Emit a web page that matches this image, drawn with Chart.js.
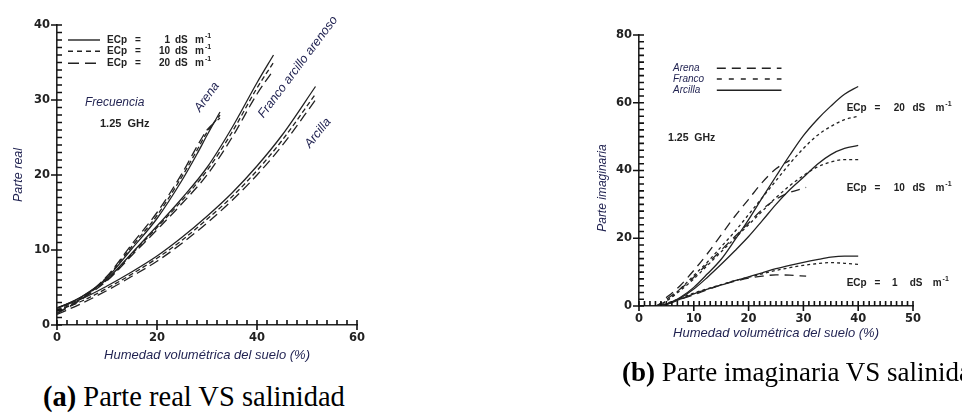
<!DOCTYPE html>
<html>
<head>
<meta charset="utf-8">
<script src="https://cdn.jsdelivr.net/npm/chart.js@4"></script>
<style>
  body { margin: 0; background: #fff; width: 962px; height: 416px; overflow: hidden; position: relative; }
  canvas { position: absolute; }
  #realChart { left: 0; top: 0; }
  #imagChart { left: 580px; top: 0; }
  .caption { position: absolute; font-family: "Liberation Serif", serif; color: #000; white-space: nowrap; line-height: 1; }
  #capA { left: 43px; top: 383px; font-size: 28.5px; }
  #capB { left: 622px; top: 359px; font-size: 27px; }
</style>
</head>
<body>
<canvas id="realChart" width="380" height="370"></canvas>
<canvas id="imagChart" width="382" height="360"></canvas>
<div class="caption" id="capA"><b>(a)</b> Parte real VS salinidad</div>
<div class="caption" id="capB"><b>(b)</b> Parte imaginaria VS salinidad</div>

<script>
// ---- (a) parte real: humedad (%) vs permitividad real, 1.25 GHz ----
const arenaX = [0, 5, 10, 15, 20, 25, 28, 30, 32.6];
const arenaReal1 = [2.2, 3.8, 6.3, 10.2, 14.2, 19.3, 22.8, 25.3, 28.4];
const arenaReal10 = [1.8, 3.6, 6.4, 10.5, 14.6, 19.8, 23.3, 25.7, 28.0];
const arenaReal20 = [1.5, 3.5, 6.5, 10.8, 15.0, 20.2, 23.8, 26.0, 27.6];

const francoX = [0, 5, 10, 15, 20, 25, 30, 35, 40, 43.3];
const francoReal1 = [2.2, 3.8, 6.1, 9.6, 13.2, 16.9, 21.0, 26.3, 32.3, 36.0];
const francoReal10 = [2.0, 3.7, 6.0, 9.5, 13.0, 16.6, 20.6, 25.7, 31.6, 35.0];
const francoReal20 = [1.6, 3.5, 5.9, 9.3, 12.7, 16.2, 20.0, 25.0, 30.8, 34.0];

const arcillaX = [0, 5, 10, 15, 20, 25, 30, 35, 40, 45, 51.7];
const arcillaReal1 = [2.3, 3.5, 5.2, 7.1, 9.2, 11.7, 14.5, 17.6, 21.2, 25.3, 31.8];
const arcillaReal10 = [1.9, 3.2, 4.9, 6.8, 8.9, 11.3, 14.1, 17.1, 20.6, 24.6, 30.8];
const arcillaReal20 = [1.4, 2.9, 4.6, 6.5, 8.5, 10.9, 13.6, 16.6, 20.0, 23.9, 30.0];

// ---- (b) parte imaginaria ----
const imagX = [0, 3, 5, 7.5, 10, 12.5, 15, 17.5, 20, 22.5, 25, 27.5, 30, 32.5, 35, 37.5, 40];
const arcillaImag20 = [0, 0, 0.5, 2.5, 5.5, 9.5, 13.8, 19.5, 25.5, 32, 38.3, 44.5, 50.3, 55, 59, 62.5, 64.8];
const arcillaImag10 = [0, 0, 0.5, 2.3, 5, 8.5, 12.3, 16.3, 20.5, 25.2, 30, 34.3, 38, 41.8, 44.7, 46.5, 47.4];
const arcillaImag1 = [0, 0, 0.5, 2, 3.6, 5, 6.2, 7.5, 8.6, 9.8, 11, 12, 12.9, 13.7, 14.4, 14.7, 14.7];
const francoImag20 = [0, 0, 1.5, 5, 9, 13, 17.5, 22, 27, 32, 37, 42, 46.5, 50.3, 53, 55, 56];
const francoImag10 = [0, 0, 1.5, 4.5, 8, 12, 16, 20, 24, 28, 32, 35.5, 38.5, 41, 42.5, 43.2, 43.2];
const francoImag1 = [0, 0, 0.7, 2.3, 3.8, 5.1, 6.3, 7.5, 8.5, 9.5, 10.5, 11.3, 12, 12.5, 12.8, 12.6, 12.3];
const arenaImagX = [0, 3, 5, 7.5, 10, 12.5, 15, 17.5, 20, 22.5, 25, 27.5, 30.5];
const arenaImag20 = [0, 0, 2.5, 6, 10.5, 15.5, 21, 26.5, 31.5, 36.5, 40.5, 43];
const arenaImag10 = [0, 0, 2, 5, 8.5, 12.5, 16.5, 20.5, 24.5, 28.5, 31.5, 33.5, 35];
const arenaImag1 = [0, 0, 0.8, 2, 3.3, 4.8, 6.2, 7.3, 8.2, 8.8, 9.2, 9.1, 8.8];

const INK = '#222';
const NAVY = '#1f2150';
const tickFont = { family: '"DejaVu Sans", sans-serif', size: 11.5, weight: 'bold' };
const titleFont = { family: '"Liberation Sans", Arial, sans-serif', size: 13, style: 'italic' };

function series(xs, ys, dash) {
    return {
        data: ys.map((y, i) => ({ x: xs[i], y: y })),
        borderColor: INK,
        borderWidth: 1.3,
        borderDash: dash,
        pointRadius: 0,
        fill: false,
        cubicInterpolationMode: 'monotone'
    };
}

// tick marks, free text and legend samples, placed in data coordinates
function makeNotes(texts, samples) {
    return {
        id: 'notes',
        afterDraw(chart) {
            const ctx = chart.ctx;
            const sx = chart.scales.x, sy = chart.scales.y;
            const area = chart.chartArea;

            // every tick sits inside the plot; labelled ones also poke outside
            ctx.save();
            ctx.setLineDash([]);
            ctx.strokeStyle = '#111';
            ctx.lineWidth = 1.6;
            ctx.beginPath();
            sx.ticks.forEach(t => {
                const px = sx.getPixelForValue(t.value);
                const major = t.label !== '';
                ctx.moveTo(px, area.bottom - 5);
                ctx.lineTo(px, area.bottom + (major ? 5 : 0));
            });
            sy.ticks.forEach(t => {
                const py = sy.getPixelForValue(t.value);
                const major = t.label !== '';
                ctx.moveTo(area.left - (major ? 6 : 0), py);
                ctx.lineTo(area.left + 5, py);
            });
            ctx.stroke();
            ctx.restore();

            samples.forEach(s => {
                const py = sy.getPixelForValue(s.y);
                ctx.save();
                ctx.strokeStyle = INK;
                ctx.lineWidth = 1.4;
                ctx.setLineDash(s.dash);
                ctx.beginPath();
                ctx.moveTo(sx.getPixelForValue(s.x0), py);
                ctx.lineTo(sx.getPixelForValue(s.x1), py);
                ctx.stroke();
                ctx.restore();
            });
            texts.forEach(t => {
                ctx.save();
                ctx.translate(sx.getPixelForValue(t.x), sy.getPixelForValue(t.y) + (t.dy || 0));
                ctx.rotate((t.rot || 0) * Math.PI / 180);
                ctx.font = t.font;
                ctx.fillStyle = t.color || INK;
                ctx.textAlign = t.align || 'left';
                ctx.textBaseline = 'middle';
                ctx.fillText(t.text, 0, 0);
                ctx.restore();
            });
        }
    };
}

function axes(xMax, xStep, xLabelEvery, yMax, yStep, yLabelEvery, xTitle, yTitle, xHeight, yWidth, xTitlePad) {
    return {
        x: {
            type: 'linear', min: 0, max: xMax,
            ticks: { stepSize: xStep, autoSkip: false, maxRotation: 0, padding: 2, color: INK, font: tickFont,
                callback: v => (v % xLabelEvery === 0 ? v : '') },
            grid: { drawOnChartArea: false, tickLength: 4, tickColor: 'rgba(0,0,0,0)' },
            border: { color: INK, width: 1.6 },
            title: { display: true, text: xTitle, color: NAVY, font: titleFont, padding: { top: 0, bottom: xTitlePad } },
            afterFit: s => { s.height = xHeight; }
        },
        y: {
            type: 'linear', min: 0, max: yMax,
            ticks: { stepSize: yStep, autoSkip: false, padding: 2, color: INK, font: tickFont,
                callback: v => (v % yLabelEvery === 0 ? v : '') },
            grid: { drawOnChartArea: false, tickLength: 5, tickColor: 'rgba(0,0,0,0)' },
            border: { color: INK, width: 1.6 },
            title: { display: !!yTitle, text: yTitle, color: NAVY, font: { ...titleFont, size: 12.5 }, padding: { top: 11, bottom: 0 } },
            afterFit: s => { s.width = yWidth; }
        }
    };
}

const SOLID = [], SHORT = [5, 3], LONG = [10, 5];
const ecFont = 'bold 10px "Liberation Sans", sans-serif';
const supFont = 'bold 7px "Liberation Sans", sans-serif';
const labelFont = 'italic 12.5px "Liberation Sans", sans-serif';

const realTexts = [];
[['1', 38.0], ['10', 36.5], ['20', 34.9]].forEach(([n, y]) => {
    realTexts.push({ x: 10, y: y, text: 'ECp', font: ecFont });
    realTexts.push({ x: 16.2, y: y, text: '=', font: ecFont, align: 'center' });
    realTexts.push({ x: 22.6, y: y, text: n, font: ecFont, align: 'right' });
    realTexts.push({ x: 23.6, y: y, text: 'dS', font: ecFont });
    realTexts.push({ x: 27.6, y: y, text: 'm', font: ecFont });
    realTexts.push({ x: 29.6, y: y, dy: -4, text: '-1', font: supFont });
});
realTexts.push(
    { x: 5.6, y: 29.7, text: 'Frecuencia', font: 'italic 12px "Liberation Sans", sans-serif', color: NAVY },
    { x: 8.6, y: 26.8, text: '1.25  GHz', font: 'bold 11px "Liberation Sans", sans-serif' },
    { x: 30, y: 30.4, rot: -54, align: 'center', text: 'Arena', font: labelFont, color: NAVY },
    { x: 48.2, y: 34.4, rot: -53, align: 'center', text: 'Franco arcillo arenoso', font: labelFont, color: NAVY },
    { x: 52.2, y: 25.6, rot: -51, align: 'center', text: 'Arcilla', font: labelFont, color: NAVY }
);
const realSamples = [
    { x0: 2.2, x1: 8.6, y: 38.0, dash: SOLID },
    { x0: 2.2, x1: 8.6, y: 36.5, dash: [5, 4] },
    { x0: 2.2, x1: 8.6, y: 34.9, dash: [11, 6] }
];

new Chart(document.getElementById('realChart'), {
    type: 'line',
    data: {
        datasets: [
            series(arenaX, arenaReal1, SOLID), series(arenaX, arenaReal10, SHORT), series(arenaX, arenaReal20, LONG),
            series(francoX, francoReal1, SOLID), series(francoX, francoReal10, SHORT), series(francoX, francoReal20, LONG),
            series(arcillaX, arcillaReal1, SOLID), series(arcillaX, arcillaReal10, SHORT), series(arcillaX, arcillaReal20, LONG)
        ]
    },
    options: {
        responsive: false,
        animation: false,
        layout: { padding: { top: 25, right: 23, left: 0, bottom: 0 } },
        plugins: { legend: { display: false }, tooltip: { enabled: false } },
        scales: axes(60, 2, 20, 40, 1, 10, 'Humedad volumétrica del suelo (%)', 'Parte real', 45, 57, 7)
    },
    plugins: [makeNotes(realTexts, realSamples)]
});

// ---- (b) ----
const ARENA = [9, 6], FRANCO = [3, 3];
const imagTexts = [
    { x: 6.2, y: 70.2, text: 'Arena', font: 'italic 10px "Liberation Sans", sans-serif', color: NAVY },
    { x: 6.2, y: 67, text: 'Franco', font: 'italic 10px "Liberation Sans", sans-serif', color: NAVY },
    { x: 6.2, y: 63.7, text: 'Arcilla', font: 'italic 10px "Liberation Sans", sans-serif', color: NAVY },
    { x: 5.3, y: 49.6, text: '1.25  GHz', font: 'bold 10.5px "Liberation Sans", sans-serif' },
    { x: -6.6, y: 34.8, rot: -90, align: 'center', text: 'Parte imaginaria', font: 'italic 12px "Liberation Sans", sans-serif', color: NAVY }
];
[['20', 58.4, 48.5, 49.9, 54.1], ['10', 34.8, 48.5, 49.9, 54.1], ['1', 6.8, 47.2, 49.4, 53.6]].forEach(([n, y, nx, dx, mx]) => {
    imagTexts.push({ x: 37.9, y: y, text: 'ECp', font: ecFont });
    imagTexts.push({ x: 43.5, y: y, text: '=', font: ecFont, align: 'center' });
    imagTexts.push({ x: nx, y: y, text: n, font: ecFont, align: 'right' });
    imagTexts.push({ x: dx, y: y, text: 'dS', font: ecFont });
    imagTexts.push({ x: mx, y: y, text: 'm', font: ecFont });
    imagTexts.push({ x: mx + 1.8, y: y, dy: -4, text: '-1', font: supFont });
});
const imagSamples = [
    { x0: 14.2, x1: 26, y: 70.2, dash: ARENA },
    { x0: 14.2, x1: 26, y: 67, dash: [5, 7] },
    { x0: 14.2, x1: 26, y: 63.7, dash: SOLID }
];

new Chart(document.getElementById('imagChart'), {
    type: 'line',
    data: {
        datasets: [
            series(imagX, arcillaImag20, SOLID), series(imagX, arcillaImag10, SOLID), series(imagX, arcillaImag1, SOLID),
            series(imagX, francoImag20, FRANCO), series(imagX, francoImag10, FRANCO), series(imagX, francoImag1, FRANCO),
            series(arenaImagX, arenaImag20, ARENA), series(arenaImagX, arenaImag10, ARENA), series(arenaImagX, arenaImag1, ARENA)
        ]
    },
    options: {
        responsive: false,
        animation: false,
        layout: { padding: { top: 35, right: 49, left: 0, bottom: 0 } },
        plugins: { legend: { display: false }, tooltip: { enabled: false } },
        scales: axes(50, 1, 10, 80, 2, 20, 'Humedad volumétrica del suelo (%)', '', 54, 59, 19)
    },
    plugins: [makeNotes(imagTexts, imagSamples)]
});
</script>
</body>
</html>
